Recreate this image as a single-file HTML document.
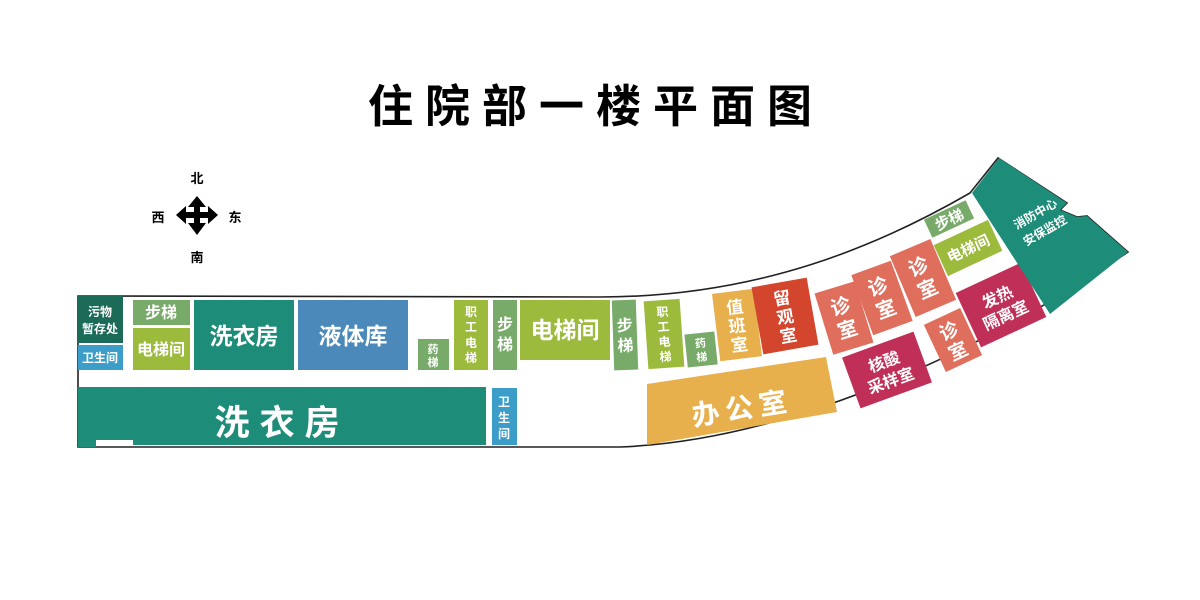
<!DOCTYPE html>
<html><head><meta charset="utf-8"><style>
html,body{margin:0;padding:0;background:#fff}
svg{display:block}
text{font-family:"Liberation Sans","Noto Sans CJK SC",sans-serif;font-weight:bold}
</style></head><body>
<svg width="1200" height="600" viewBox="0 0 1200 600" xmlns="http://www.w3.org/2000/svg">
<rect width="1200" height="600" fill="#fff"/>
<text x="596" y="122" font-size="45" text-anchor="middle" fill="#000" letter-spacing="12">住院部一楼平面图</text>

<!-- compass -->
<g fill="#000">
<polygon points="197,196 206,207 200,207 200,212 208,212 208,206 218,215 208,224 208,218 200,218 200,223 206,223 197,235 188,223 194,223 194,218 186,218 186,224 176,215 186,206 186,212 194,212 194,207 188,207"/>
</g>
<g font-size="13" fill="#000" text-anchor="middle">
<text x="197" y="183">北</text><text x="197" y="262">南</text>
<text x="158" y="222">西</text><text x="235" y="222">东</text>
</g>

<!-- outline -->
<path d="M78,296 L600,297 C760,297 880,245 970,193 L998,158 L1067,203 L1060,210 L1077,217 L1087,216 L1128,252 C1000,340 800,440 620,447 L78,447 Z" fill="#fff" stroke="#222" stroke-width="1.6"/>

<g font-size="13" fill="#fff" text-anchor="middle">
<rect x="78" y="296" width="45" height="47" fill="#1b6b58"/>
<text x="100" y="316" font-size="12">污物</text><text x="100" y="333" font-size="12">暂存处</text>
<rect x="78" y="345" width="45" height="25" fill="#3d9dc9"/>
<text x="100" y="362" font-size="12">卫生间</text>
<rect x="133" y="300" width="57" height="25" fill="#78aa6a"/>
<text x="161" y="318" font-size="16">步梯</text>
<rect x="133" y="328" width="57" height="42" fill="#9cba3c"/>
<text x="161" y="355" font-size="16">电梯间</text>
<rect x="194" y="300" width="100" height="70" fill="#1d8c78"/>
<text x="244" y="344" font-size="23">洗衣房</text>
<rect x="298" y="300" width="110" height="70" fill="#4a89b9"/>
<text x="353" y="344" font-size="23">液体库</text>
<rect x="418" y="339" width="31" height="31" fill="#78aa6a"/>
<text x="433" y="353" font-size="11">药</text><text x="433" y="366" font-size="11">梯</text>
<rect x="454" y="300" width="34" height="70" fill="#9cba3c"/>
<text x="471" y="316" font-size="12">职</text><text x="471" y="331" font-size="12">工</text><text x="471" y="347" font-size="12">电</text><text x="471" y="362" font-size="12">梯</text>
<rect x="493" y="300" width="24" height="70" fill="#78aa6a"/>
<text x="505" y="330" font-size="16">步</text><text x="505" y="350" font-size="16">梯</text>
<rect x="520" y="300" width="90" height="60" fill="#9cba3c"/>
<text x="565" y="338" font-size="23">电梯间</text>
<path d="M78,387 L486,387 L486,445 L133,445 L133,440 L96,440 L96,447 L78,447 Z" fill="#1d8c78"/>
<text x="282" y="435" font-size="35" letter-spacing="10">洗衣房</text>
<rect x="492" y="388" width="25" height="57" fill="#3d9dc9"/>
<text x="504" y="406" font-size="12">卫</text><text x="504" y="422" font-size="12">生</text><text x="504" y="438" font-size="12">间</text>

<g transform="translate(625,335) rotate(-2)"><rect x="-12" y="-35" width="24" height="70" fill="#78aa6a"/><text y="-4" font-size="16">步</text><text y="16" font-size="16">梯</text></g>
<g transform="translate(664,334) rotate(-4)"><rect x="-18" y="-34" width="36" height="68" fill="#9cba3c"/><text y="-18" font-size="12">职</text><text y="-3" font-size="12">工</text><text y="12" font-size="12">电</text><text y="27" font-size="12">梯</text></g>
<g transform="translate(701,349) rotate(-6)"><rect x="-15" y="-16" width="30" height="33" fill="#78aa6a"/><text y="-2" font-size="11">药</text><text y="12" font-size="11">梯</text></g>
<g transform="translate(737,325) rotate(-7)"><rect x="-21" y="-34" width="42" height="68" fill="#e8b04c"/><text y="-12" font-size="17">值</text><text y="7" font-size="17">班</text><text y="26" font-size="17">室</text></g>
<g transform="translate(785,316) rotate(-10)"><rect x="-28" y="-34" width="56" height="68" fill="#d3452d"/><text y="-12" font-size="17">留</text><text y="7" font-size="17">观</text><text y="26" font-size="17">室</text></g>
<path d="M647,384 L826,357 L837,412 L647,445 Z" fill="#e8b04c"/>
<g transform="translate(742,408) rotate(-9)"><text y="10" font-size="28" letter-spacing="6">办公室</text></g>
<g transform="translate(844,318) rotate(-17)"><rect x="-21" y="-32" width="42" height="64" fill="#df6e5c"/><text y="-5" font-size="20">诊</text><text y="19" font-size="20">室</text></g>
<g transform="translate(882,298) rotate(-20)"><rect x="-21" y="-32" width="42" height="64" fill="#df6e5c"/><text y="-5" font-size="20">诊</text><text y="19" font-size="20">室</text></g>
<g transform="translate(923,278) rotate(-23)"><rect x="-22" y="-33" width="44" height="66" fill="#df6e5c"/><text y="-5" font-size="20">诊</text><text y="19" font-size="20">室</text></g>
<g transform="translate(953,340) rotate(-25)"><rect x="-20" y="-26" width="40" height="52" fill="#df6e5c"/><text y="-3" font-size="19">诊</text><text y="19" font-size="19">室</text></g>
<g transform="translate(887,370) rotate(-20)"><rect x="-38" y="-27" width="76" height="54" fill="#c02f57"/><text y="-3" font-size="16">核酸</text><text y="17" font-size="16">采样室</text></g>
<g transform="translate(1001,305) rotate(-25)"><rect x="-36" y="-30" width="72" height="60" fill="#c02f57"/><text y="-3" font-size="16">发热</text><text y="17" font-size="16">隔离室</text></g>
<g transform="translate(949,219) rotate(-25)"><rect x="-23" y="-10" width="46" height="20" fill="#78aa6a"/><text y="6" font-size="15">步梯</text></g>
<g transform="translate(968,248) rotate(-25)"><rect x="-30" y="-17" width="60" height="34" fill="#9cba3c"/><text y="6" font-size="15">电梯间</text></g>
<polygon points="972,193 999,158 1067,203 1060,210 1077,217 1087,216 1128,252 1050,314" fill="#1d8c78"/>
<g transform="translate(1040,222) rotate(-30)"><text y="-5" font-size="12">消防中心</text><text y="14" font-size="12">安保监控</text></g>
</g>
</svg>
</body></html>
